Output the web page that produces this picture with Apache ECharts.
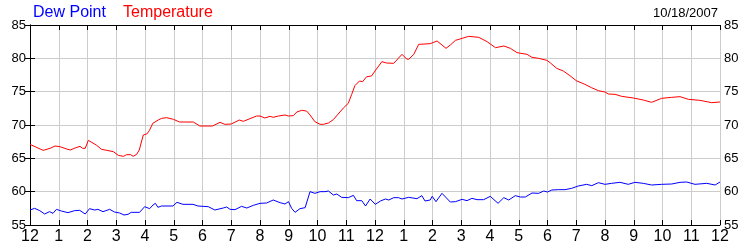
<!DOCTYPE html>
<html>
<head>
<meta charset="utf-8">
<script src="https://cdn.jsdelivr.net/npm/echarts@6/dist/echarts.min.js"></script>
<style>html,body{margin:0;padding:0;background:#fff}#c{width:750px;height:250px}</style>
</head>
<body>
<div id="c"></div>
<script>
var hourLabels = ['12','1','2','3','4','5','6','7','8','9','10','11','12','1','2','3','4','5','6','7','8','9','10','11','12'];
var yTicks = [55, 60, 65, 70, 75, 80, 85];

var tempHours = [0,0.35,0.46,0.7,0.87,1.04,1.28,1.4,1.57,1.74,1.83,1.92,2.03,2.32,2.49,2.67,2.9,3.07,3.25,3.36,3.5,3.59,3.71,3.8,3.94,4.06,4.15,4.27,4.46,4.58,4.75,4.99,5.2,5.68,5.91,6.35,6.61,6.78,7.0,7.28,7.42,7.65,7.88,8.0,8.17,8.35,8.46,8.64,8.87,8.99,9.16,9.28,9.45,9.62,9.74,9.91,10.09,10.2,10.38,10.55,10.72,10.9,11.07,11.19,11.3,11.46,11.57,11.71,11.88,12.0,12.24,12.4,12.65,12.94,13.1,13.17,13.35,13.52,13.92,14.16,14.33,14.47,14.62,14.8,15.03,15.26,15.61,15.9,16.19,16.48,16.71,16.94,17.29,17.46,17.69,17.98,18.09,18.32,18.55,18.78,19.0,19.3,19.53,19.77,20.0,20.12,20.35,20.58,20.99,21.33,21.62,21.97,22.32,22.61,22.9,23.3,23.71,24.0];
var tempValues = [67.1,66.4,66.2,66.5,66.85,66.75,66.4,66.25,66.55,66.8,66.5,66.5,67.7,66.95,66.35,66.2,66.0,65.45,65.3,65.55,65.55,65.3,65.6,66.25,68.5,68.65,69.15,70.25,70.75,71.0,71.1,70.85,70.45,70.45,69.85,69.85,70.4,70.1,70.15,70.75,70.55,70.95,71.35,71.35,71.05,71.3,71.15,71.35,71.5,71.35,71.4,71.95,72.2,72.1,71.5,70.5,70.1,70.1,70.3,70.8,71.65,72.55,73.25,74.6,75.9,76.6,76.5,77.25,77.35,78.1,79.5,79.3,79.25,80.6,79.9,79.85,80.6,82.1,82.2,82.6,82.0,81.5,82.0,82.7,83.0,83.3,83.15,82.5,81.6,81.85,81.5,80.85,80.6,80.15,80.0,79.7,79.35,78.5,78.1,77.4,76.65,76.1,75.6,75.15,74.95,74.65,74.6,74.3,74.05,73.75,73.4,74.0,74.15,74.25,73.85,73.7,73.35,73.45];

var dewHours = [0,0.16,0.34,0.51,0.68,0.8,0.92,1.09,1.32,1.55,1.73,1.92,2.07,2.25,2.36,2.54,2.77,2.94,3.12,3.27,3.41,3.52,3.81,3.99,4.16,4.28,4.36,4.45,4.57,4.8,4.97,5.11,5.32,5.67,5.84,6.02,6.2,6.43,6.72,6.84,6.96,7.13,7.36,7.54,7.77,8.0,8.23,8.46,8.7,8.87,8.99,9.1,9.22,9.39,9.57,9.74,9.91,10.09,10.26,10.38,10.55,10.67,10.84,11.07,11.25,11.36,11.54,11.67,11.83,12.01,12.19,12.36,12.48,12.65,12.82,12.94,13.17,13.46,13.63,13.74,13.92,13.99,14.12,14.33,14.62,14.8,15.03,15.2,15.37,15.55,15.78,16.01,16.28,16.48,16.65,16.88,17.06,17.23,17.46,17.69,17.87,18.0,18.15,18.38,18.61,18.84,19.07,19.36,19.54,19.77,20.0,20.23,20.52,20.81,21.04,21.33,21.62,21.97,22.32,22.61,22.84,23.13,23.54,23.83,24.0];
var dewValues = [57.25,57.5,57.15,56.65,57.0,56.75,57.35,57.1,56.85,57.15,57.2,56.65,57.45,57.25,57.35,57.0,57.35,56.95,56.8,56.5,56.6,56.9,56.9,57.75,57.45,58.0,58.25,57.65,57.85,57.85,57.85,58.4,58.1,58.1,57.85,57.8,57.75,57.25,57.55,57.7,57.35,57.3,57.8,57.55,57.95,58.25,58.3,58.75,58.35,58.15,58.5,57.5,56.9,57.45,57.6,60.0,59.75,60.0,60.0,60.1,59.5,59.65,59.15,59.1,59.45,58.65,58.65,57.85,58.9,58.1,58.6,58.9,58.75,59.1,59.1,58.9,59.15,58.95,59.4,58.6,58.75,59.3,58.5,59.75,58.45,58.5,58.85,58.65,59.0,58.8,58.8,59.3,58.25,59.1,58.75,59.4,59.2,59.2,59.8,59.75,60.1,59.95,60.25,60.3,60.3,60.5,60.85,61.1,60.9,61.35,61.1,61.25,61.4,61.1,61.4,61.25,61.0,61.1,61.15,61.4,61.45,61.1,61.25,61.0,61.45];

function zip(a, b) { var r = []; for (var i = 0; i < a.length; i++) r.push([a[i], b[i]]); return r; }

var chart = echarts.init(document.getElementById('c'), null, {renderer: 'canvas'});
var axisLine = {show: true, lineStyle: {color: '#000', width: 1}};
var tick = {show: true, inside: true, length: 5, lineStyle: {color: '#000'}};
var grid = {show: true, lineStyle: {color: '#cccccc', width: 1}};
var yLabel = {color: '#000', fontFamily: 'Liberation Sans', fontSize: 13, margin: 4};
chart.setOption({
  animation: false,
  backgroundColor: '#fff',
  grid: {left: 30, right: 30, top: 25, bottom: 25, containLabel: false},
  xAxis: [
    {type: 'value', min: 0, max: 24, interval: 1, position: 'bottom',
     axisLine: axisLine, axisTick: tick, splitLine: grid,
     axisLabel: {color: '#000', fontFamily: 'Liberation Sans', fontSize: 16, margin: 4,
                 formatter: function (v) { return hourLabels[Math.round(v)]; }}},
    {type: 'value', min: 0, max: 24, interval: 1, position: 'top',
     axisLine: axisLine, axisTick: tick, splitLine: {show: false}, axisLabel: {show: false}}
  ],
  yAxis: [
    {type: 'value', min: yTicks[0], max: yTicks[yTicks.length - 1], interval: 5, position: 'left',
     axisLine: axisLine, axisTick: tick, splitLine: grid, axisLabel: yLabel},
    {type: 'value', min: yTicks[0], max: yTicks[yTicks.length - 1], interval: 5, position: 'right',
     axisLine: axisLine, axisTick: tick, splitLine: {show: false}, axisLabel: yLabel}
  ],
  graphic: [
    {type: 'text', left: 33, top: 5, style: {text: 'Dew Point', fill: '#0000ff', font: '16px "Liberation Sans"'}},
    {type: 'text', left: 123, top: 5, style: {text: 'Temperature', fill: '#ff0000', font: '16px "Liberation Sans"'}},
    {type: 'text', right: 32, top: 7, style: {text: '10/18/2007', fill: '#000', font: '13px "Liberation Sans"'}}
  ],
  series: [
    {name: 'Temperature', type: 'line', data: zip(tempHours, tempValues), showSymbol: false,
     lineStyle: {color: '#ff0000', width: 1}, itemStyle: {color: '#ff0000'}, z: 3},
    {name: 'Dew Point', type: 'line', data: zip(dewHours, dewValues), showSymbol: false,
     lineStyle: {color: '#0000ff', width: 1}, itemStyle: {color: '#0000ff'}, z: 4}
  ]
});
</script>
</body>
</html>
